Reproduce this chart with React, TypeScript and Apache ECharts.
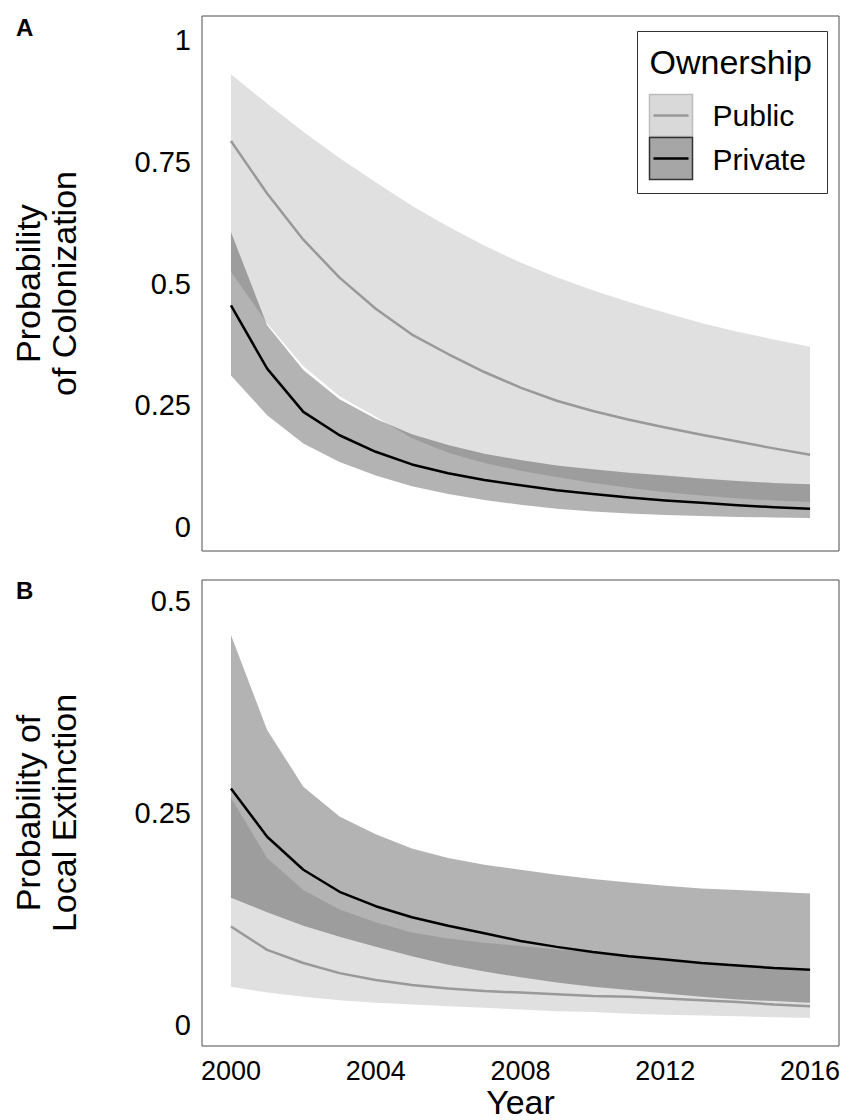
import React, { useEffect, useRef } from "react";
import * as echarts from "echarts";

const years = [2000, 2001, 2002, 2003, 2004, 2005, 2006, 2007, 2008, 2009, 2010, 2011, 2012, 2013, 2014, 2015, 2016];
const xTicks = [2000, 2004, 2008, 2012, 2016];
const yTicksA = [0, 0.25, 0.5, 0.75, 1];
const yTicksB = [0, 0.25, 0.5];

// Panel A: probability of colonization
const pubMeanA = [0.793, 0.685, 0.59, 0.512, 0.448, 0.395, 0.355, 0.318, 0.286, 0.259, 0.238, 0.22, 0.204, 0.189, 0.175, 0.161, 0.148];
const pubUpA = [0.93, 0.87, 0.812, 0.758, 0.708, 0.66, 0.617, 0.578, 0.543, 0.513, 0.486, 0.462, 0.44, 0.419, 0.401, 0.385, 0.37];
const pubLoA = [0.524, 0.418, 0.33, 0.268, 0.226, 0.182, 0.152, 0.131, 0.115, 0.102, 0.09, 0.08, 0.071, 0.064, 0.058, 0.054, 0.051];
const privMeanA = [0.455, 0.325, 0.236, 0.188, 0.154, 0.128, 0.11, 0.096, 0.085, 0.075, 0.067, 0.06, 0.054, 0.049, 0.044, 0.04, 0.037];
const privUpA = [0.606, 0.414, 0.322, 0.262, 0.222, 0.19, 0.168, 0.15, 0.137, 0.126, 0.118, 0.111, 0.105, 0.099, 0.094, 0.09, 0.087];
const privLoA = [0.311, 0.229, 0.171, 0.133, 0.105, 0.083, 0.067, 0.055, 0.045, 0.037, 0.031, 0.027, 0.024, 0.022, 0.02, 0.019, 0.018];

// Panel B: probability of local extinction
const pubMeanB = [0.116, 0.0885, 0.073, 0.061, 0.053, 0.047, 0.043, 0.04, 0.038, 0.036, 0.034, 0.033, 0.031, 0.029, 0.027, 0.024, 0.022];
const pubUpB = [0.268, 0.197, 0.159, 0.136, 0.121, 0.109, 0.102, 0.097, 0.093, 0.089, 0.086, 0.082, 0.078, 0.074, 0.07, 0.066, 0.063];
const pubLoB = [0.045, 0.038, 0.033, 0.029, 0.026, 0.024, 0.022, 0.02, 0.018, 0.016, 0.015, 0.013, 0.012, 0.011, 0.01, 0.009, 0.008];
const privMeanB = [0.279, 0.222, 0.183, 0.157, 0.14, 0.127, 0.117, 0.108, 0.099, 0.092, 0.086, 0.081, 0.077, 0.073, 0.07, 0.067, 0.065];
const privUpB = [0.46, 0.348, 0.281, 0.246, 0.225, 0.208, 0.197, 0.189, 0.183, 0.177, 0.172, 0.168, 0.164, 0.161, 0.159, 0.157, 0.155];
const privLoB = [0.15, 0.133, 0.117, 0.104, 0.092, 0.081, 0.071, 0.063, 0.056, 0.05, 0.045, 0.041, 0.037, 0.033, 0.03, 0.028, 0.026];

const FONT = "'Liberation Sans', Arial, Helvetica, sans-serif";
const PUB_FILL = "rgba(0,0,0,0.122)";
const PRIV_FILL = "rgba(0,0,0,0.298)";
const PUB_LINE = "#999999";
const PRIV_LINE = "#000000";

export default function App() {
  const ref = useRef<HTMLDivElement>(null);

  useEffect(() => {
    document.body.style.margin = "0";
    const chart = echarts.init(ref.current as HTMLDivElement, null, { renderer: "svg" });

    const band = (name: string, idx: number, lo: number[], hi: number[], color: string, z: number) => ({
      type: "custom",
      name,
      xAxisIndex: idx,
      yAxisIndex: idx,
      silent: true,
      z,
      encode: { x: 0, y: [1, 2] },
      data: years.map((y, i) => [y, lo[i], hi[i]]),
      renderItem: (params: any, api: any) => {
        if (params.dataIndex !== 0) return null;
        const top = years.map((y, i) => api.coord([y, hi[i]]));
        const bot = years.map((y, i) => api.coord([y, lo[i]])).reverse();
        return {
          type: "polygon",
          shape: { points: top.concat(bot) },
          style: { fill: color, stroke: null },
        };
      },
    });

    const line = (name: string, idx: number, vals: number[], color: string, width: number, z: number) => ({
      type: "line",
      name,
      xAxisIndex: idx,
      yAxisIndex: idx,
      data: years.map((y, i) => [y, vals[i]]),
      showSymbol: false,
      symbol: "none",
      silent: true,
      z,
      lineStyle: { color, width, cap: "butt", join: "round" },
    });

    const xAxisBase = (idx: number, showLabels: boolean) => ({
      type: "value",
      gridIndex: idx,
      min: 1999.2,
      max: 2016.8,
      axisLine: { show: false },
      axisTick: { show: false },
      splitLine: { show: false },
      axisLabel: {
        show: showLabels,
        customValues: xTicks,
        formatter: (v: number) => String(v),
        color: "#000",
        fontSize: 27,
        fontFamily: FONT,
        margin: 11,
      },
      name: showLabels ? "Year" : "",
      nameLocation: "middle",
      nameGap: 38,
      nameTextStyle: { color: "#000", fontSize: 34, fontFamily: FONT },
    });

    const yAxisBase = (idx: number, min: number, max: number, ticks: number[], name: string) => ({
      type: "value",
      gridIndex: idx,
      min,
      max,
      axisLine: { show: false },
      axisTick: { show: false },
      splitLine: { show: false },
      axisLabel: {
        customValues: ticks,
        formatter: (v: number) => String(v),
        color: "#000",
        fontSize: 29,
        fontFamily: FONT,
        margin: 11,
      },
      name,
      nameLocation: "middle",
      nameRotate: 90,
      nameGap: 120,
      nameTextStyle: { color: "#000", fontSize: 34, fontFamily: FONT, lineHeight: 36, align: "center" },
    });

    const legendX = 637;
    const legendY = 31;

    chart.setOption({
      animation: false,
      backgroundColor: "#ffffff",
      grid: [
        { left: 202, width: 637, top: 16, height: 535, show: true, borderColor: "#4d4d4d", borderWidth: 1, backgroundColor: "transparent" },
        { left: 202, width: 637, top: 580, height: 466, show: true, borderColor: "#4d4d4d", borderWidth: 1, backgroundColor: "transparent" },
      ],
      xAxis: [xAxisBase(0, false), xAxisBase(1, true)],
      yAxis: [
        yAxisBase(0, -0.05, 1.05, yTicksA, "Probability\nof Colonization"),
        yAxisBase(1, -0.025, 0.525, yTicksB, "Probability of\nLocal Extinction"),
      ],
      series: [
        band("Public band A", 0, pubLoA, pubUpA, PUB_FILL, 1),
        band("Private band A", 0, privLoA, privUpA, PRIV_FILL, 2),
        line("Public", 0, pubMeanA, PUB_LINE, 2.5, 3),
        line("Private", 0, privMeanA, PRIV_LINE, 2.5, 4),
        band("Public band B", 1, pubLoB, pubUpB, PUB_FILL, 1),
        band("Private band B", 1, privLoB, privUpB, PRIV_FILL, 2),
        line("Public", 1, pubMeanB, PUB_LINE, 2.5, 3),
        line("Private", 1, privMeanB, PRIV_LINE, 2.5, 4),
      ],
      graphic: [
        { type: "text", left: 16, top: 15, style: { text: "A", font: `bold 24px ${FONT}`, fill: "#000" } },
        { type: "text", left: 16, top: 578, style: { text: "B", font: `bold 24px ${FONT}`, fill: "#000" } },
        {
          type: "group",
          left: legendX,
          top: legendY,
          children: [
            { type: "rect", shape: { x: 0, y: 0, width: 190, height: 162 }, style: { fill: "#fff", stroke: "#333", lineWidth: 1 } },
            { type: "text", x: 12, y: 30, style: { text: "Ownership", font: `34px ${FONT}`, fill: "#000", verticalAlign: "middle" } },
            { type: "rect", shape: { x: 12, y: 63, width: 43, height: 42 }, style: { fill: "#d9d9d9", stroke: "#bdbdbd", lineWidth: 1.5 } },
            { type: "line", shape: { x1: 16, y1: 84, x2: 51, y2: 84 }, style: { stroke: PUB_LINE, lineWidth: 2.5 } },
            { type: "text", x: 75, y: 84, style: { text: "Public", font: `30px ${FONT}`, fill: "#000", verticalAlign: "middle" } },
            { type: "rect", shape: { x: 12, y: 106, width: 43, height: 42 }, style: { fill: "#a6a6a6", stroke: "#333", lineWidth: 1.5 } },
            { type: "line", shape: { x1: 16, y1: 127, x2: 51, y2: 127 }, style: { stroke: PRIV_LINE, lineWidth: 2.5 } },
            { type: "text", x: 75, y: 128, style: { text: "Private", font: `30px ${FONT}`, fill: "#000", verticalAlign: "middle" } },
          ],
        },
      ],
    });

    return () => chart.dispose();
  }, []);

  return <div ref={ref} style={{ width: 849, height: 1120 }} />;
}
